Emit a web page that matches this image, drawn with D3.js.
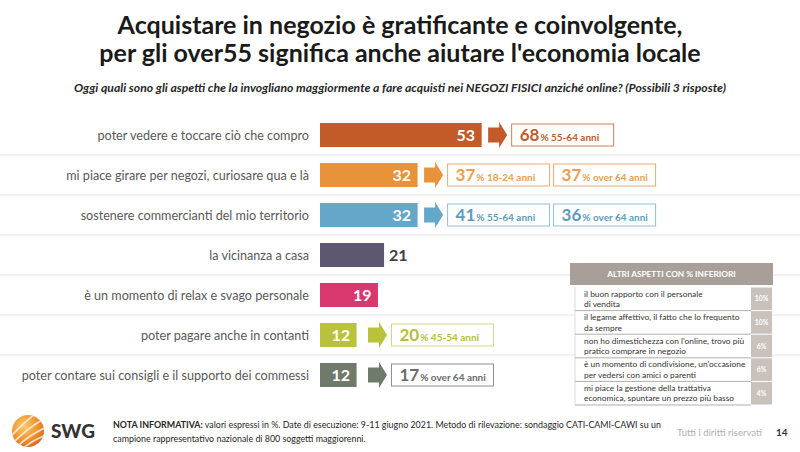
<!DOCTYPE html>
<html><head><meta charset="utf-8">
<script src="https://cdn.jsdelivr.net/npm/d3@7"></script>
<style>
html,body{margin:0;padding:0;background:#fff;}
svg{display:block;font-family:Lato,"Open Sans",sans-serif;}
</style></head>
<body>
<svg id="c" width="800" height="452"></svg>
<script>
// ---- DATA ----
const titleLines = ["Acquistare in negozio è gratificante e coinvolgente,", "per gli over55 significa anche aiutare l'economia locale"];
const subtitle = "Oggi quali sono gli aspetti che la invogliano maggiormente a fare acquisti nei NEGOZI FISICI anziché online? (Possibili 3 risposte)";
const categories = [
  "poter vedere e toccare ciò che compro",
  "mi piace girare per negozi, curiosare qua e là",
  "sostenere commercianti del mio territorio",
  "la vicinanza a casa",
  "è un momento di relax e svago personale",
  "poter pagare anche in contanti",
  "poter contare sui consigli e il supporto dei commessi"
];
const values = [53, 32, 32, 21, 19, 12, 12];
const highlightValues = [[68], [37, 37], [41, 36], [], [], [20], [17]];
const highlightGroups = [["55-64 anni"], ["18-24 anni", "over 64 anni"], ["55-64 anni", "over 64 anni"], [], [], ["45-54 anni"], ["over 64 anni"]];
const otherTitle = "ALTRI ASPETTI CON % INFERIORI";
const otherLabels = [
  ["il buon rapporto con il personale", "di vendita"],
  ["il legame affettivo, il fatto che lo frequento", "da sempre"],
  ["non ho dimestichezza con l'online, trovo più", "pratico comprare in negozio"],
  ["è un momento di condivisione, un'occasione", "per vedersi con amici o parenti"],
  ["mi piace la gestione della trattativa", "economica, spuntare un prezzo più basso"]
];
const otherValues = [10, 10, 6, 6, 4];
const noteLines = [
  ["NOTA INFORMATIVA:", " valori espressi in %. Date di esecuzione: 9-11 giugno 2021. Metodo di rilevazione: sondaggio CATI-CAMI-CAWI su un"],
  ["", "campione rappresentativo nazionale di 800 soggetti maggiorenni."]
];
const rightsText = "Tutti i diritti riservati";
const pageNumber = "14";
const brand = "SWG";

// ---- STYLES ----
const barColors = ["#C25A2A", "#E8923A", "#64A7C8", "#5F5670", "#D9386F", "#BAC23C", "#6F7A6B"];
const boxStroke = ["#C9805C", "#EBAA6A", "#8DBFD8", null, null, "#CFD58A", "#8E8E8E"];
const boxText = ["#C25A2A", "#E9A04E", "#5E9CBD", null, null, "#B5BE3A", "#6B6B6B"];

const svg = d3.select("#c");

// Title
svg.append("g").selectAll("text").data(titleLines).join("text")
  .attr("x", 400).attr("y", (d, i) => 34 + i * 28)
  .attr("text-anchor", "middle").attr("font-size", 25).attr("font-weight", 700)
  .attr("fill", "#1a1a1a").text(d => d);

svg.append("text").attr("x", 400).attr("y", 92).attr("text-anchor", "middle")
  .attr("font-size", 12.2).attr("font-weight", 700).attr("font-style", "italic")
  .attr("fill", "#262626").text(subtitle);

// Scales
const x = d3.scaleLinear().domain([0, 100]).range([320, 625]);
const y = d3.scaleBand().domain(categories).range([115, 395]).paddingInner(0.4).paddingOuter(0.2);
const bw = y.bandwidth();

// Separators
svg.append("g").selectAll("line").data(categories.slice(0, -1)).join("line")
  .attr("x1", 0).attr("x2", 800)
  .attr("y1", d => y(d) + bw + 8).attr("y2", d => y(d) + bw + 8)
  .attr("stroke", "#e6e6e6").attr("stroke-width", 1.2);

// Category labels
svg.append("g").selectAll("text").data(categories).join("text")
  .attr("x", 309).attr("y", d => y(d) + bw / 2 + 4.5)
  .attr("text-anchor", "end").attr("font-size", 12.6).attr("fill", "#595959")
  .text(d => d);

// Bars
const rows = categories.map((c, i) => ({c, v: values[i], i}));
svg.append("g").selectAll("rect").data(rows).join("rect")
  .attr("x", x(0)).attr("y", d => y(d.c)).attr("width", d => x(d.v) - x(0)).attr("height", bw)
  .attr("fill", d => barColors[d.i]);

// Value labels
svg.append("g").selectAll("text").data(rows).join("text")
  .attr("x", d => d.v === 21 ? x(d.v) + 5 : x(d.v) - 6.5)
  .attr("y", d => y(d.c) + bw / 2 + 6)
  .attr("text-anchor", d => d.v === 21 ? "start" : "end")
  .attr("font-size", 16).attr("font-weight", 700)
  .attr("fill", d => d.v === 21 ? "#404040" : "#fff")
  .text(d => d.v);

// Arrows + boxes
rows.forEach(d => {
  const hv = highlightValues[d.i];
  if (!hv.length) return;
  const cy = y(d.c) + bw / 2;
  const ax = Math.max(x(d.v) + 6.5, 368);
  const path = d3.path();
  path.moveTo(ax, cy - 7.5); path.lineTo(ax + 11, cy - 7.5); path.lineTo(ax + 11, cy - 13);
  path.lineTo(ax + 19, cy); path.lineTo(ax + 11, cy + 13); path.lineTo(ax + 11, cy + 7.5);
  path.lineTo(ax, cy + 7.5); path.closePath();
  svg.append("path").attr("d", path.toString()).attr("fill", barColors[d.i]);
  hv.forEach((v, k) => {
    const bx = ax + 23.5 + k * 106;
    svg.append("rect").attr("x", bx).attr("y", cy - 11).attr("width", 102).attr("height", 22)
      .attr("fill", "#fff").attr("stroke", boxStroke[d.i]).attr("stroke-width", 1);
    const t = svg.append("text").attr("x", bx + 8).attr("y", cy + 6).attr("fill", boxText[d.i]).attr("font-weight", 700);
    t.append("tspan").attr("font-size", 17).text(v);
    t.append("tspan").attr("font-size", 10).attr("dx", 1).text("% " + highlightGroups[d.i][k]);
  });
});

// Other aspects table
const tb = svg.append("g");
tb.append("rect").attr("x", 570).attr("y", 263).attr("width", 203).attr("height", 22).attr("fill", "#A89F98");
tb.append("text").attr("x", 671.5).attr("y", 277).attr("text-anchor", "middle")
  .attr("font-size", 8.3).attr("font-weight", 700).attr("fill", "#fff").text(otherTitle);
const ty = d3.scaleBand().domain(d3.range(otherLabels.length)).range([287, 405]);
tb.append("rect").attr("x", 575).attr("y", 287).attr("width", 197).attr("height", 118).attr("fill", "#fff");
otherLabels.forEach((lines, i) => {
  const ry = ty(i), rh = ty.bandwidth();
  tb.append("rect").attr("x", 751).attr("y", ry + 0.5).attr("width", 21).attr("height", rh - 1).attr("fill", "#C9C2BC");
  tb.append("line").attr("x1", 575).attr("x2", 751).attr("y1", ry + rh).attr("y2", ry + rh)
    .attr("stroke", "#9a9a9a").attr("stroke-width", 0.8);
  tb.append("text").attr("x", 761.5).attr("y", ry + rh / 2 + 2.5).attr("text-anchor", "middle")
    .attr("font-size", 6.8).attr("font-weight", 700).attr("fill", "#fff").text(otherValues[i] + "%");
  lines.forEach((l, j) => {
    tb.append("text").attr("x", 584).attr("y", ry + 9.5 + j * 10.5)
      .attr("font-size", 8.4).attr("fill", "#333").text(l);
  });
});
tb.append("line").attr("x1", 575).attr("x2", 575).attr("y1", 287).attr("y2", 405).attr("stroke", "#d0d0d0").attr("stroke-width", 0.8);

// Footer logo
const defs = svg.append("defs");
const rg = defs.append("radialGradient").attr("id", "sph").attr("cx", "38%").attr("cy", "35%").attr("r", "70%");
rg.append("stop").attr("offset", "0%").attr("stop-color", "#FCCB6E");
rg.append("stop").attr("offset", "60%").attr("stop-color", "#F19530");
rg.append("stop").attr("offset", "100%").attr("stop-color", "#D9661C");
defs.append("clipPath").attr("id", "sclip").append("circle").attr("cx", 28).attr("cy", 431).attr("r", 16);
svg.append("circle").attr("cx", 28).attr("cy", 431).attr("r", 16).attr("fill", "url(#sph)");
const sg = svg.append("g").attr("clip-path", "url(#sclip)");
[-8, -1, 6, 13].forEach(o => {
  sg.append("path").attr("d", `M${6 + o},${452} Q${22 + o},${432 + o * 0.3} ${48 + o},${418 + o}`)
    .attr("fill", "none").attr("stroke", "#fff").attr("stroke-opacity", 0.75).attr("stroke-width", 1.6);
});
svg.append("text").attr("x", 51).attr("y", 438).attr("font-size", 19).attr("font-weight", 900)
  .attr("fill", "#333").text(brand);

// Note
svg.append("g").selectAll("text").data(noteLines).join("text")
  .attr("x", 113).attr("y", (d, i) => 428 + i * 13.5).attr("font-size", 8.9).attr("fill", "#262626")
  .each(function(d) {
    const t = d3.select(this);
    if (d[0]) t.append("tspan").attr("font-weight", 700).text(d[0]);
    t.append("tspan").text(d[1]);
  });
svg.append("text").attr("x", 762).attr("y", 436).attr("text-anchor", "end").attr("font-size", 9.6)
  .attr("fill", "#b0b0b0").text(rightsText);
svg.append("text").attr("x", 776).attr("y", 436).attr("font-size", 10).attr("font-weight", 700)
  .attr("fill", "#333").text(pageNumber);
</script>
</body></html>
